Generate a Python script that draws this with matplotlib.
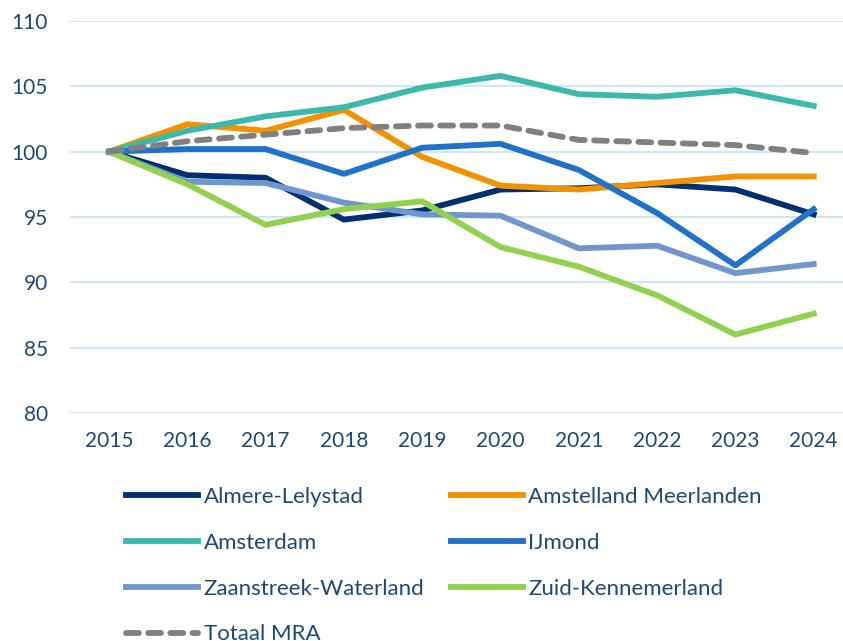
import matplotlib
matplotlib.use("Agg")
import matplotlib.pyplot as plt

# jaren en indexcijfers (2015 = 100)
jaren = [2015, 2016, 2017, 2018, 2019, 2020, 2021, 2022, 2023, 2024]
almere = [100, 98.2, 98.0, 94.8, 95.5, 97.1, 97.2, 97.5, 97.1, 95.2]
amstelland = [100, 102.1, 101.6, 103.2, 99.6, 97.4, 97.1, 97.6, 98.1, 98.1]
amsterdam = [100, 101.6, 102.7, 103.4, 104.9, 105.8, 104.4, 104.2, 104.7, 103.5]
ijmond = [100, 100.2, 100.2, 98.3, 100.3, 100.6, 98.6, 95.3, 91.3, 95.6]
zaanstreek = [100, 97.7, 97.6, 96.1, 95.2, 95.1, 92.6, 92.8, 90.7, 91.4]
zuid_kennemerland = [100, 97.5, 94.4, 95.6, 96.2, 92.7, 91.2, 89.0, 86.0, 87.6]
totaal_mra = [100, 100.8, 101.3, 101.8, 102.0, 102.0, 100.9, 100.7, 100.5, 99.9]

tekstkleur = "#1B4A78"
plt.rcParams['font.family'] = ['Lato', 'DejaVu Sans']

fig = plt.figure(figsize=(8.43, 6.41), dpi=100)
ax = fig.add_axes([70 / 843, 228 / 641, 773 / 843, 392 / 641])

lw = 4.2
l1, = ax.plot(jaren, almere, color="#00306F", lw=lw, label="Almere-Lelystad")
l2, = ax.plot(jaren, amstelland, color="#F39200", lw=lw, label="Amstelland Meerlanden")
l3, = ax.plot(jaren, amsterdam, color="#3CB8AC", lw=lw, label="Amsterdam")
l4, = ax.plot(jaren, ijmond, color="#1F72C7", lw=lw, label="IJmond")
l5, = ax.plot(jaren, zaanstreek, color="#7096CE", lw=lw, label="Zaanstreek-Waterland")
l6, = ax.plot(jaren, zuid_kennemerland, color="#92D050", lw=lw, label="Zuid-Kennemerland")
l7, = ax.plot(jaren, totaal_mra, color="#808080", lw=lw, ls=(0, (2.2, 1.6)),
              dash_capstyle="round", label="Totaal MRA")

ax.set_ylim(80, 110)
ax.set_yticks([80, 85, 90, 95, 100, 105, 110])
ax.set_xlim(2014.502, 2024.374)
ax.set_xticks(jaren)
ax.grid(axis="y", color="#CFE6F8", lw=1.5)
ax.set_axisbelow(True)
for s in ax.spines.values():
    s.set_visible(False)
ax.tick_params(length=0, labelsize=15, labelcolor=tekstkleur)
ax.tick_params(axis="y", pad=16)
ax.tick_params(axis="x", pad=13)

# volgorde zodat de legenda per rij gevuld wordt
handles = [l1, l3, l5, l7, l2, l4, l6]
leg = fig.legend(handles=handles, labels=[h.get_label() for h in handles],
                 ncol=2, loc="upper left", bbox_to_anchor=(126 / 843, 1 - 487 / 641),
                 frameon=False, fontsize=16, handlelength=3.25, handletextpad=0.25,
                 columnspacing=1.17, labelspacing=1.16, borderpad=0, borderaxespad=0)
for t in leg.get_texts():
    t.set_color(tekstkleur)

fig.savefig("out.png", dpi=100)
